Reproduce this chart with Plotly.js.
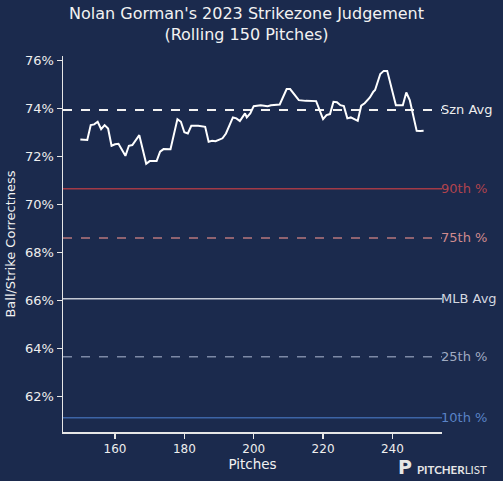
<!DOCTYPE html>
<html>
<head>
<meta charset="utf-8">
<script src="https://cdn.plot.ly/plotly-3.0.1.min.js"></script>
<style>
html,body{margin:0;padding:0;background:#1b2a4d;}
#chart{width:503px;height:481px;}
</style>
</head>
<body>
<div id="chart"></div>
<script>
// Rolling 150-pitch ball/strike correctness
const pitches = [150,152,153,154,155,156,157,158,159,160,161,163,164,165,167,169,170,172,173,174,176,178,179,180,181,182,184,185,186,187,188,189,191,192,194,195,196,197.5,198,199,200,202,204,205,207.5,209.5,210.5,213,215,218,219,220,221,222,223,224,225,226,227,228,230,231,232,233.5,234.5,235,236.5,237.5,238.5,240,241,243,244,245,247,248,249];
const correctness = [72.72,72.70,73.32,73.35,73.46,73.15,73.32,73.18,72.46,72.52,72.54,72.04,72.46,72.49,72.90,71.71,71.82,71.82,72.21,72.32,72.31,73.57,73.46,73.02,72.97,73.29,73.29,73.28,73.25,72.63,72.67,72.65,72.77,72.97,73.64,73.60,73.49,73.81,73.64,73.81,74.11,74.15,74.11,74.15,74.18,74.82,74.82,74.36,74.33,74.32,73.95,73.57,73.74,73.78,74.29,74.27,74.15,74.11,73.60,73.64,73.50,74.13,74.23,74.47,74.71,74.78,75.45,75.58,75.58,74.78,74.15,74.15,74.68,74.36,73.08,73.07,73.08];

const refNames  = ["Szn Avg","90th %","75th %","MLB Avg","25th %","10th %"];
const refValues = [73.95,70.67,68.62,66.08,63.67,61.12];
const refColors = ["#f2f2f2","#a33a46","#b8777c","#c3c8d3","#7d89a6","#3d64a6"];
const refLabelColors = ["#eeeeee","#b0434d","#d18b8d","#d4d8e0","#a0abc2","#5a83c6"];
const refDash   = ["dash","solid","dash","solid","dash","solid"];
const refWidth  = [2,1.5,1.5,1.5,1.5,1.5];

const xTicks = [160,180,200,220,240];
const yTicks = [62,64,66,68,70,72,74,76];
const yTickLabels = yTicks.map(v => v + "%");

const titleText = "Nolan Gorman's 2023 Strikezone Judgement<br>(Rolling 150 Pitches)";

const bg = "#1b2a4d";
const fontFam = "DejaVu Sans, sans-serif";

const shapes = refValues.map((v,i) => ({
  type:"line", xref:"x domain", x0:0, x1:1, yref:"y", y0:v, y1:v,
  line:{color:refColors[i], width:refWidth[i], dash:refDash[i]}, layer:"below"
}));

const annotations = refValues.map((v,i) => ({
  xref:"x domain", x:1, yref:"y", y:v, xanchor:"left", yanchor:"middle",
  text:refNames[i], showarrow:false, xshift:-3,
  font:{family:fontFam, size:13, color:refLabelColors[i]}
}));
// chart title
annotations.push({
  xref:"paper", yref:"paper", x:0.483, y:1.085, xanchor:"center", yanchor:"middle",
  showarrow:false, text:titleText, align:"center",
  font:{family:fontFam, size:16, color:"#f2f2f2"}
});
// logo
annotations.push({
  xref:"paper", yref:"paper", x:0.928, y:-0.101, xanchor:"left", yanchor:"middle",
  showarrow:false, text:"<b>PITCHER</b>LIST",
  font:{family:"Lato, DejaVu Sans, sans-serif", size:11.5, color:"#e6e6e6"}
});
annotations.push({
  xref:"paper", yref:"paper", x:0.926, y:-0.094, xanchor:"right", yanchor:"middle",
  showarrow:false, text:"<b>P</b>",
  font:{family:"DejaVu Sans, sans-serif", size:19, color:"#e6e6e6"}
});

const trace = {
  x: pitches, y: correctness, type:"scatter", mode:"lines",
  line:{color:"#ffffff", width:2}, hoverinfo:"skip"
};

const layout = {
  width:503, height:481,
  paper_bgcolor:bg, plot_bgcolor:bg,
  margin:{l:63, r:61, t:56, b:49},
  showlegend:false,
  xaxis:{
    range:[145,254.3], tickvals:xTicks, ticktext:xTicks.map(String),
    showgrid:false, zeroline:false, showline:true, linecolor:"#e6e6e6", linewidth:1.5,
    ticks:"outside", ticklen:5, tickwidth:1.2, tickcolor:"#e6e6e6",
    tickfont:{family:fontFam, size:12, color:"#eeeeee"},
    title:{text:"Pitches", font:{family:fontFam, size:13.5, color:"#f2f2f2"}, standoff:4}
  },
  yaxis:{
    range:[60.53,76.2], tickvals:yTicks, ticktext:yTickLabels,
    showgrid:false, zeroline:false, showline:true, linecolor:"#e6e6e6", linewidth:1.5,
    ticks:"outside", ticklen:5, tickwidth:1.2, tickcolor:"#e6e6e6",
    tickfont:{family:fontFam, size:13, color:"#eeeeee"},
    title:{text:"Ball/Strike Correctness", font:{family:fontFam, size:13, color:"#f2f2f2"}, standoff:6}
  },
  shapes:shapes,
  annotations:annotations
};

Plotly.newPlot("chart",[trace],layout,{displayModeBar:false, staticPlot:true});
</script>
</body>
</html>
